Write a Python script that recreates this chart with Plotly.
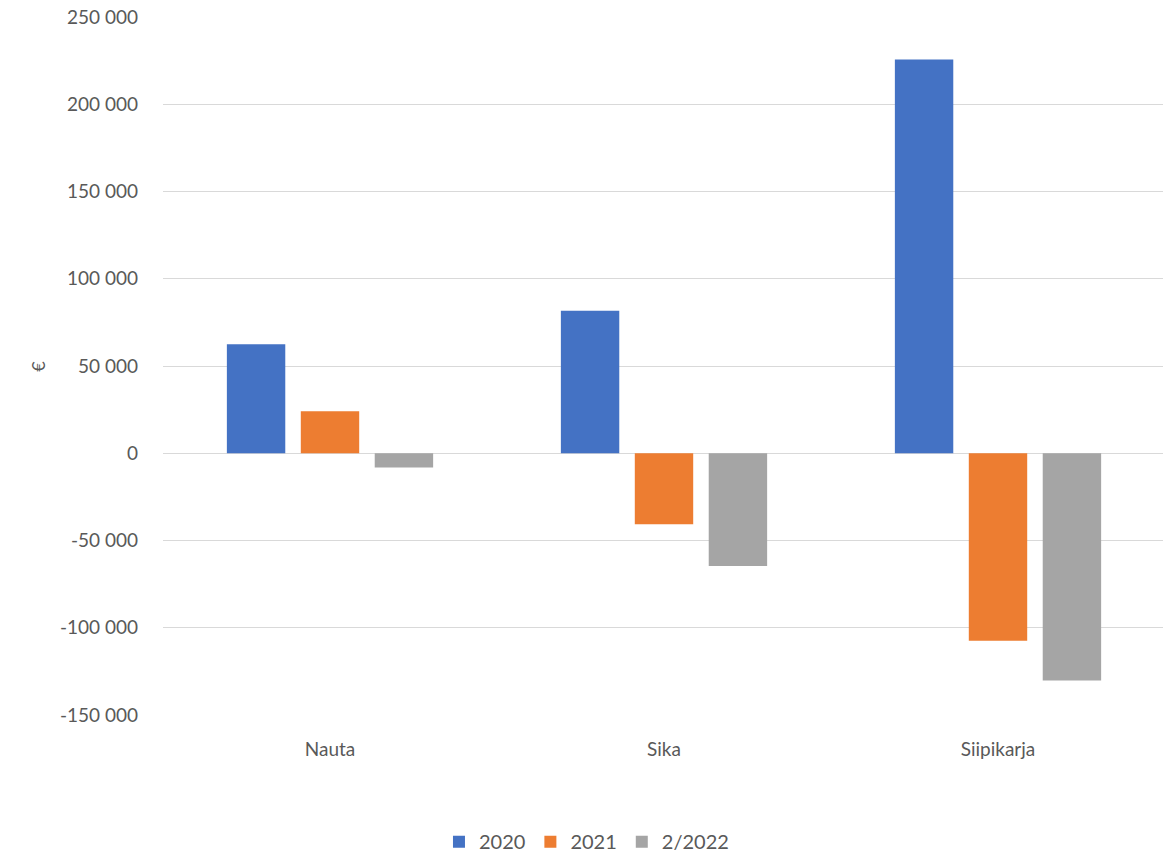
import plotly.graph_objects as go

# data
categories = ["Nauta", "Sika", "Siipikarja"]
series_names = ["2020", "2021", "2/2022"]
values_2020 = [62500, 81600, 225600]
values_2021 = [24100, -40700, -107400]
values_2022 = [-8200, -64600, -130300]
colors = ["#4472C4", "#ED7D31", "#A5A5A5"]

tick_vals = [-150000, -100000, -50000, 0, 50000, 100000, 150000, 200000, 250000]
tick_text = ["-150 000", "-100 000", "-50 000", "0", "50 000",
             "100 000", "150 000", "200 000", "250 000"]

fig = go.Figure()

for name, vals, col in zip(series_names, [values_2020, values_2021, values_2022], colors):
    fig.add_trace(go.Bar(
        x=categories,
        y=vals,
        name=name,
        marker=dict(color=col, line=dict(width=0)),
    ))

# page body has an 8px margin, margins below account for it
fig.update_layout(
    width=1171,
    height=855,
    barmode="group",
    bargap=0.336,
    bargroupgap=0.21,
    plot_bgcolor="white",
    paper_bgcolor="white",
    font=dict(family="Lato, Open Sans, sans-serif", size=19, color="#595959"),
    margin=dict(l=155, r=14, t=9, b=148),
    legend=dict(
        orientation="h",
        x=0.494, xanchor="center",
        xref="container", yref="container",
        y=0.025, yanchor="middle",
        font=dict(size=20, color="#595959"),
        itemwidth=30,
        traceorder="normal",
    ),
    showlegend=True,
)

# y-axis title as a rotated label (axis title ignores standoff without automargin)
fig.add_annotation(
    text="€",
    xref="paper", yref="paper",
    x=-0.125, y=0.5,
    xanchor="center", yanchor="middle",
    textangle=-90,
    showarrow=False,
    font=dict(size=18, color="#595959"),
)

fig.update_yaxes(
    range=[-150000, 250000],
    tickvals=tick_vals,
    ticktext=tick_text,
    showgrid=True,
    gridcolor="#D9D9D9",
    gridwidth=1.3,
    zeroline=True,
    zerolinecolor="#D9D9D9",
    zerolinewidth=1.3,
    showline=False,
    ticks="",
    automargin=False,
    ticklabeloverflow="allow",
    ticklabelstandoff=24,
)

fig.update_xaxes(
    showgrid=False,
    showline=False,
    ticks="",
    automargin=False,
    ticklabelstandoff=21,
)

fig.write_html("out.html")
